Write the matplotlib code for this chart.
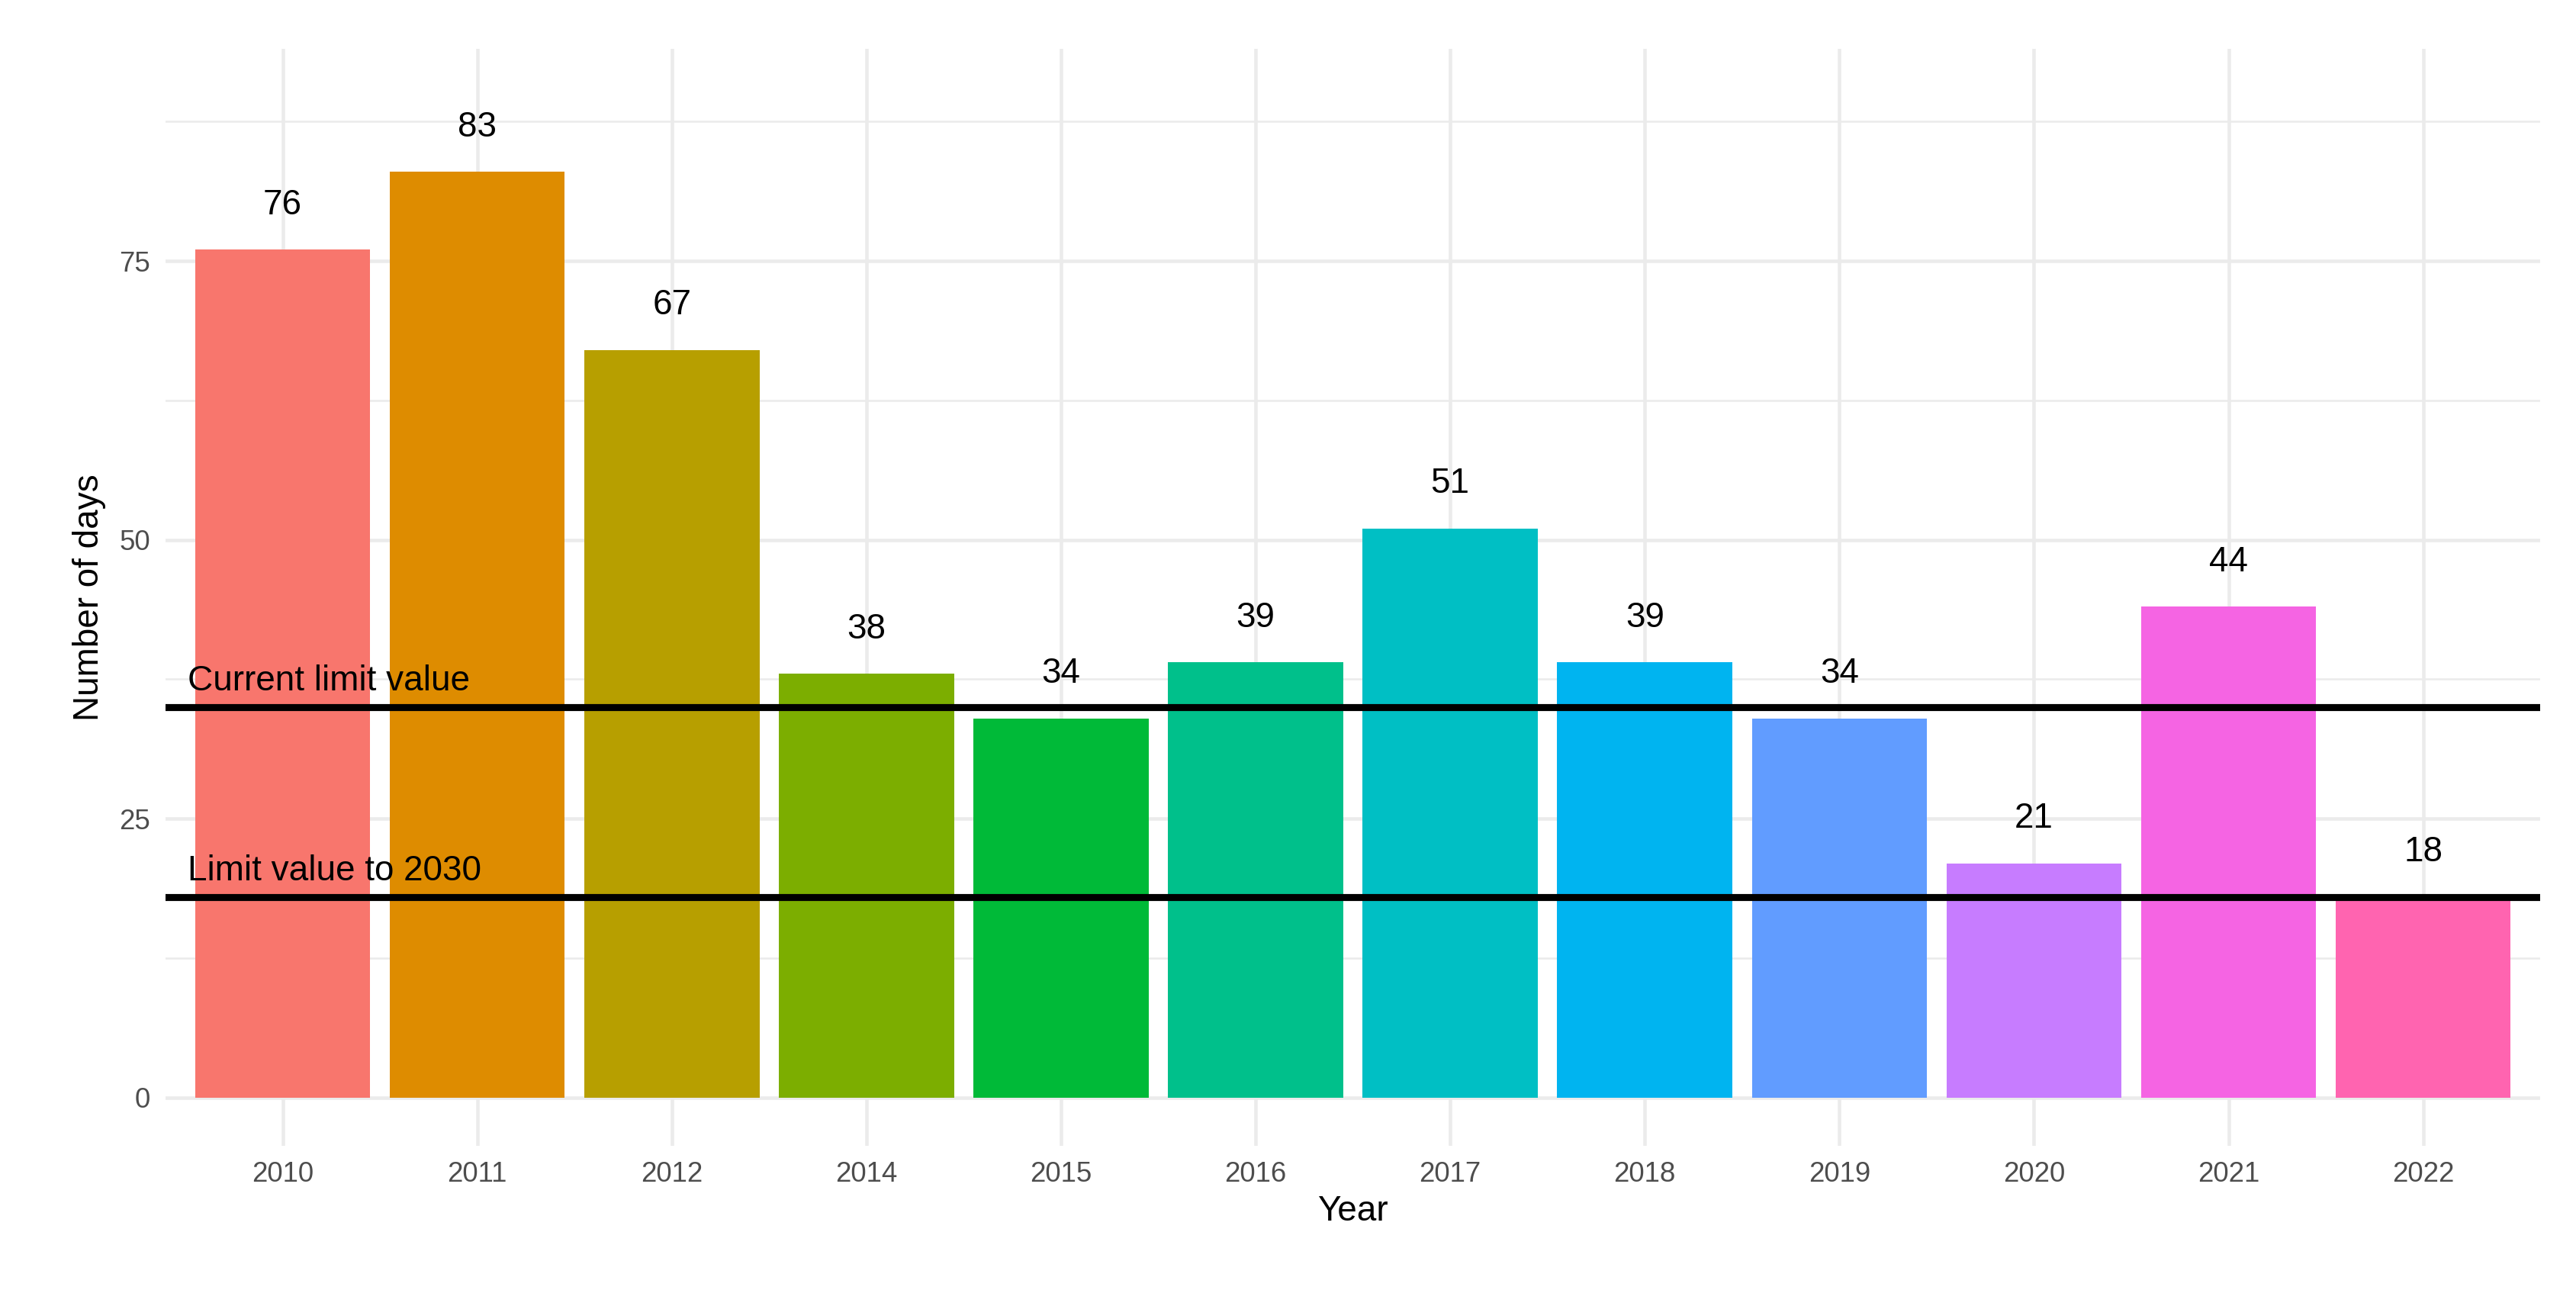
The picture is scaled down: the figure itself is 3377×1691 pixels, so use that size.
import matplotlib
matplotlib.use("Agg")
import matplotlib.pyplot as plt

years = ["2010","2011","2012","2014","2015","2016","2017","2018","2019","2020","2021","2022"]
days = [76, 83, 67, 38, 34, 39, 51, 39, 34, 21, 44, 18]
colors = ["#F8766D","#DE8C00","#B79F00","#7CAE00","#00BA38","#00C08B",
          "#00BFC4","#00B4F0","#619CFF","#C77CFF","#F564E3","#FF64B0"]
limits = [35, 18]
limit_labels = ["Current limit value", "Limit value to 2030"]

plt.rcParams["font.family"] = "Liberation Sans"
fig = plt.figure(figsize=(3377/300, 1691/300), dpi=300)
ax = fig.add_axes([0.0644, 0.112, 0.9216, 0.85])
x = list(range(len(years)))
ax.bar(x, days, width=0.9, color=colors, zorder=2)
for xi, v in zip(x, days):
    ax.text(xi, v + 2.5, str(v), ha="center", va="bottom", fontsize=11, zorder=4)
for lv, lab in zip(limits, limit_labels):
    ax.axhline(lv, color="black", lw=2.2, zorder=3)
    ax.text(-0.49, lv + 0.8, lab, ha="left", va="bottom", fontsize=11, zorder=4)

ax.set_xlim(-0.6, len(years) - 0.4)
ax.set_ylim(-4.3, 94)
ax.set_xticks(x)
ax.set_xticklabels(years)
ax.set_yticks([0, 25, 50, 75])
ax.set_yticks([12.5, 37.5, 62.5, 87.5], minor=True)
ax.grid(True, which="major", color="#EBEBEB", lw=1.1, zorder=0)
ax.grid(True, which="minor", axis="y", color="#EBEBEB", lw=0.6, zorder=0)
ax.set_axisbelow(True)
for s in ax.spines.values():
    s.set_visible(False)
ax.tick_params(axis="both", which="both", length=0, labelsize=8.8, labelcolor="#4D4D4D", pad=5)
ax.set_xlabel("Year", fontsize=11, labelpad=2)
ax.set_ylabel("Number of days", fontsize=11, labelpad=4)
fig.savefig("out.png", dpi=300, facecolor="white")
